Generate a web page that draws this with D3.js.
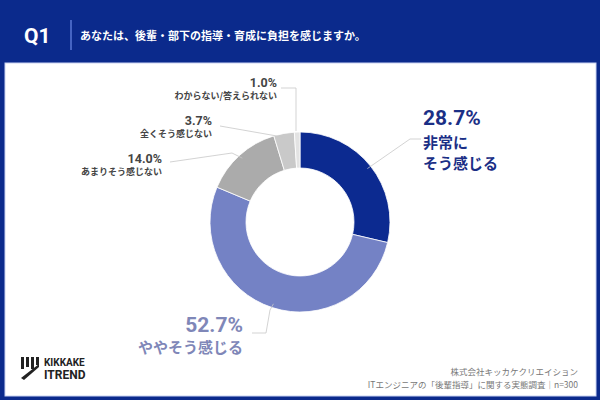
<!DOCTYPE html>
<html>
<head>
<meta charset="utf-8">
<script src="https://cdn.jsdelivr.net/npm/d3@7"></script>
<style>
  body { margin: 0; background: #0b2a8c; }
  svg { display: block; font-family: "Noto Sans CJK JP", "Noto Sans", sans-serif; }
</style>
</head>
<body>
<div id="chart"></div>
<script>
const categories = ['非常にそう感じる', 'ややそう感じる', 'あまりそう感じない', '全くそう感じない', 'わからない/答えられない'];
const values = [28.7, 52.7, 14.0, 3.7, 1.0];
const colors = ['#0c2a90', '#7482c5', '#ababab', '#c9c9c9', '#e3e3e3'];

const width = 600;
const height = 400;
const cx = 300, cy = 222;
const outerR = 90, innerR = 54;

const svg = d3.select('#chart')
  .append('svg')
  .attr('width', width)
  .attr('height', height);

// background / frame
svg.append('rect').attr('width', width).attr('height', height).attr('fill', '#0b2a8c');
svg.append('rect')
  .attr('x', 5).attr('y', 63).attr('width', 591).attr('height', 333)
  .attr('fill', '#ffffff').attr('stroke', '#c9d2f2').attr('stroke-width', 1);

// header
svg.append('text').attr('x', 24).attr('y', 43)
  .attr('fill', '#fff').attr('font-size', 21).attr('font-weight', 700)
  .attr('font-family', 'Roboto, "Noto Sans", sans-serif')
  .text('Q1');
svg.append('line').attr('x1', 71).attr('x2', 71).attr('y1', 20).attr('y2', 50)
  .attr('stroke', '#5a78d6').attr('stroke-width', 1.5);
svg.append('text').attr('x', 80).attr('y', 40)
  .attr('fill', '#fff').attr('font-size', 11).attr('font-weight', 700)
  .text('あなたは、後輩・部下の指導・育成に負担を感じますか。');

// donut
const pie = d3.pie().sort(null).value(d => d)(values);
const arc = d3.arc().innerRadius(innerR).outerRadius(outerR);

const g = svg.append('g').attr('transform', `translate(${cx},${cy})`);
g.selectAll('path')
  .data(pie)
  .join('path')
  .attr('d', arc)
  .attr('fill', (d, i) => colors[i])
  .attr('stroke', '#fff')
  .attr('stroke-width', 0.8);

// leader lines: start on outer edge of each slice
const edge = d3.arc().innerRadius(outerR - 4).outerRadius(outerR - 4);
const pt = d => { const c = edge.centroid(d); return [c[0] + cx, c[1] + cy]; };

const leaders = [
  [pt(pie[0]), [410, 139], [421, 139]],
  [pt(pie[1]), [270, 310], [266, 333], [252, 333]],
  [pt(pie[2]), [232, 153], [170, 162]],
  [pt(pie[3]), [220, 126]],
  [[296, 131], [296, 88], [281, 88]]
];
svg.append('g')
  .selectAll('path')
  .data(leaders)
  .join('path')
  .attr('d', d => d3.line()(d))
  .attr('fill', 'none')
  .attr('stroke', '#c8c8c8')
  .attr('stroke-width', 0.8);

// labels
const fmt = d3.format('.1f');
const lab = svg.append('g');

// 28.7%
lab.append('text').attr('x', 423).attr('y', 125)
  .attr('fill', '#1b2f86').attr('font-size', 21).attr('font-weight', 700)
  .attr('font-family', 'Roboto, "Noto Sans", sans-serif')
  .text(fmt(values[0]) + '%');
lab.append('text').attr('x', 423).attr('y', 148)
  .attr('fill', '#1b2f86').attr('font-size', 15).attr('font-weight', 700)
  .text('非常に');
lab.append('text').attr('x', 423).attr('y', 169)
  .attr('fill', '#1b2f86').attr('font-size', 15).attr('font-weight', 700)
  .text('そう感じる');

// 52.7%
lab.append('text').attr('x', 243).attr('y', 332).attr('text-anchor', 'end')
  .attr('fill', '#7f87b8').attr('font-size', 21).attr('font-weight', 700)
  .attr('font-family', 'Roboto, "Noto Sans", sans-serif')
  .text(fmt(values[1]) + '%');
lab.append('text').attr('x', 243).attr('y', 353).attr('text-anchor', 'end')
  .attr('fill', '#7f87b8').attr('font-size', 15).attr('font-weight', 700)
  .text(categories[1]);

// small grey labels
const small = [
  { i: 2, x: 162, y: 163 },
  { i: 3, x: 212, y: 125 },
  { i: 4, x: 277, y: 87 }
];
small.forEach(s => {
  lab.append('text').attr('x', s.x).attr('y', s.y).attr('text-anchor', 'end')
    .attr('fill', '#444').attr('font-size', 12.5).attr('font-weight', 700)
    .attr('font-family', 'Roboto, "Noto Sans", sans-serif')
    .text(fmt(values[s.i]) + '%');
  lab.append('text').attr('x', s.x).attr('y', s.y + 12).attr('text-anchor', 'end')
    .attr('fill', '#444').attr('font-size', 9).attr('font-weight', 700)
    .text(categories[s.i]);
});

// footer source
svg.append('text').attr('x', 578).attr('y', 375).attr('text-anchor', 'end')
  .attr('fill', '#777').attr('font-size', 8.5)
  .text('株式会社キッカケクリエイション');
svg.append('text').attr('x', 578).attr('y', 388).attr('text-anchor', 'end')
  .attr('fill', '#777').attr('font-size', 8.5)
  .text('ITエンジニアの「後輩指導」に関する実態調査｜n=300');

// logo
const logo = svg.append('g');
[[21, 357, 3, 12], [26, 357, 3, 10], [31, 357, 3, 12], [36, 357, 3, 8]].forEach(r => {
  logo.append('rect').attr('x', r[0]).attr('y', r[1]).attr('width', r[2]).attr('height', r[3]).attr('fill', '#222');
});
logo.append('path').attr('d', 'M21 378 L39 364 L39 367 L24 380 Z').attr('fill', '#222');
logo.append('text').attr('x', 44).attr('y', 366)
  .attr('fill', '#222').attr('font-size', 10).attr('font-weight', 700)
  .attr('font-family', 'Roboto, sans-serif').text('KIKKAKE');
logo.append('text').attr('x', 44).attr('y', 379)
  .attr('fill', '#222').attr('font-size', 12).attr('font-weight', 700)
  .attr('font-family', 'Roboto, sans-serif').text('ITREND');
</script>
</body>
</html>
